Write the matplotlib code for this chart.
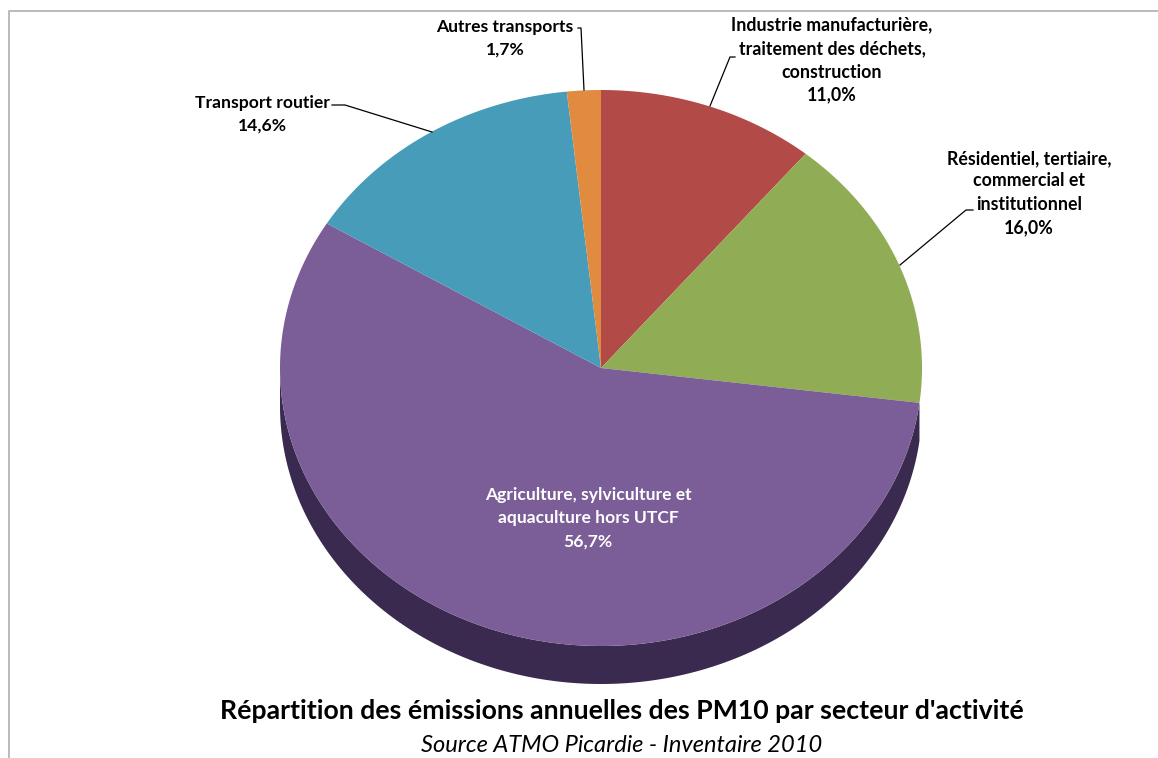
import numpy as np
import matplotlib
matplotlib.use('Agg')
import matplotlib.pyplot as plt
from matplotlib.patches import Polygon

plt.rcParams['font.family'] = ['Lato', 'Open Sans', 'DejaVu Sans']

labels = [["Industrie manufacturière,", "traitement des déchets,", "construction", "11,0%"],
          ["Résidentiel, tertiaire,", "commercial et", "institutionnel", "16,0%"],
          ["Agriculture, sylviculture et", "aquaculture hors UTCF", "56,7%"],
          ["Transport routier", "14,6%"],
          ["Autres transports", "1,7%"]]
values = [11.0, 16.0, 56.7, 14.6, 1.7]
colors = ['#B24B48', '#90AD55', '#7B5D97', '#479DB9', '#E08B40']
side_purple = '#3B2A50'

W, H = 1158, 758
fig = plt.figure(figsize=(W/100, H/100), dpi=100)
ax = fig.add_axes([0, 0, 1, 1])
ax.set_xlim(0, W); ax.set_ylim(H, 0); ax.axis('off')

ax.plot([8.7, 8.7, W + 5], [H + 5, 10.5, 10.5], color='#B5B5B5', lw=1.3, zorder=1)

cx, cy, rx, ry, depth = 601, 368, 321, 278, 38

total = sum(values)
edges = 90 - np.concatenate([[0], np.cumsum(values)]) / total * 360

def ell(a):
    a = np.radians(a)
    return cx + rx*np.cos(a), cy - ry*np.sin(a)

# extruded side: only the large purple slice shows it
t = np.linspace(edges[2], edges[3], 600)
t = t[np.sin(np.radians(t)) <= 0.0]
x, y = ell(t)
pts = np.r_[np.c_[x, y], np.c_[x[::-1], y[::-1] + depth]]
ax.add_patch(Polygon(pts, fc=side_purple, ec='none', zorder=2))

# top face
for i, v in enumerate(values):
    t = np.linspace(edges[i], edges[i+1], 300)
    x, y = ell(t)
    pts = np.r_[[[cx, cy]], np.c_[x, y]]
    ax.add_patch(Polygon(pts, fc=colors[i], ec='none', zorder=3))

fs = 12.8
def block(lines, xc, ys, color, size=fs):
    for s, yy in zip(lines, ys):
        ax.text(xc, yy, s, color=color, fontsize=size, fontweight='bold',
                ha='center', va='center', zorder=5)

block(labels[0], 832, [25, 49, 72, 95], 'black')
block(labels[1], 1029, [159, 181, 204, 228], 'black')
block(labels[2], 588, [495, 518, 542], 'white', 12.6)
block(labels[3], 262, [103, 126], 'black', 12.6)
block(labels[4], 505, [27, 50], 'black', 12.6)

# leader lines
lk = dict(color='black', lw=0.9, zorder=4)
ax.plot([710, 730, 735], [106, 57, 57], **lk)
ax.plot([900, 966, 973], [265, 210, 210], **lk)
ax.plot([432, 345, 332], [132, 105, 105], **lk)
ax.plot([584, 581, 578], [90, 28, 28], **lk)

ax.text(622, 711, "Répartition des émissions annuelles des PM10 par secteur d'activité",
        fontsize=19.2, fontweight='bold', ha='center', va='center')
ax.text(622, 745, "Source ATMO Picardie - Inventaire 2010",
        fontsize=17, style='italic', ha='center', va='center')

fig.savefig('out.png', dpi=100)
